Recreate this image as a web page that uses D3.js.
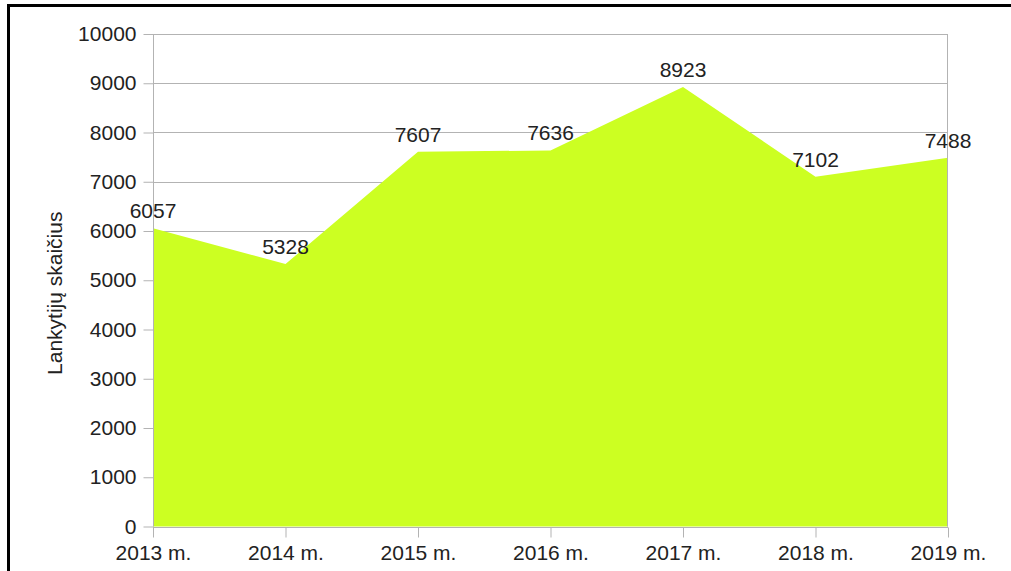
<!DOCTYPE html>
<html>
<head>
<meta charset="utf-8">
<script src="https://cdn.jsdelivr.net/npm/d3@7"></script>
<style>
  body { margin: 0; background: #fff; }
  text { font-family: "Liberation Sans", Arial, sans-serif; fill: #222; }
</style>
</head>
<body>
<div id="chart"></div>
<script>
var years = ["2013 m.", "2014 m.", "2015 m.", "2016 m.", "2017 m.", "2018 m.", "2019 m."];
var visitors = [6057, 5328, 7607, 7636, 8923, 7102, 7488];
var yTicks = [0, 1000, 2000, 3000, 4000, 5000, 6000, 7000, 8000, 9000, 10000];
var yTitle = "Lankytijų skaičius";

var W = 1011, H = 571;
var margin = {top: 34, right: 63, bottom: 44.5, left: 153},
    width = W - margin.left - margin.right,
    height = H - margin.top - margin.bottom;

var svg = d3.select("#chart")
  .append("svg")
    .attr("width", W)
    .attr("height", H);

// outer frame
svg.append("rect")
  .attr("x", 8.5).attr("y", 5.5)
  .attr("width", 1100).attr("height", 700)
  .attr("fill", "none")
  .attr("stroke", "#000")
  .attr("stroke-width", 3);

var g = svg.append("g")
  .attr("transform", "translate(" + margin.left + "," + margin.top + ")");

var x = d3.scalePoint()
  .domain(years)
  .range([0, width]);

var y = d3.scaleLinear()
  .domain([0, 10000])
  .range([height, 0]);

// gridlines
g.append("g")
  .selectAll("line")
  .data(yTicks)
  .enter()
  .append("line")
    .attr("x1", 0).attr("x2", width)
    .attr("y1", function(d) { return Math.round(y(d)) + 0.5; })
    .attr("y2", function(d) { return Math.round(y(d)) + 0.5; })
    .attr("stroke", "#b3b3b3");

// area
var area = d3.area()
  .x(function(d, i) { return x(years[i]); })
  .y0(height)
  .y1(function(d) { return y(d); });

g.append("path")
  .datum(visitors)
  .attr("d", area)
  .attr("fill", "#ccff22");

// y axis
var yAxis = g.append("g")
  .attr("transform", "translate(0.5,0)")
  .call(d3.axisLeft(y).tickValues(yTicks).tickSize(10).tickPadding(7).tickFormat(d3.format("d")));
yAxis.select(".domain").attr("stroke", "#b3b3b3").attr("d", "M0," + y(10000) + "V" + height);
yAxis.selectAll(".tick line").attr("stroke", "#b3b3b3");
yAxis.selectAll(".tick text")
  .attr("font-size", "21px")
  .attr("font-family", "Liberation Sans, Arial, sans-serif")
  .attr("fill", "#222");

// right border of plot
g.append("line")
  .attr("x1", width - 0.5).attr("x2", width - 0.5)
  .attr("y1", 0).attr("y2", height)
  .attr("stroke", "#b3b3b3");

// x axis
var xAxis = g.append("g")
  .attr("transform", "translate(0," + (Math.round(height) + 0.5) + ")")
  .call(d3.axisBottom(x).tickSize(10).tickPadding(8));
xAxis.select(".domain").attr("stroke", "#b3b3b3").attr("d", "M0,0H" + width);
xAxis.selectAll(".tick line").attr("stroke", "#b3b3b3");
xAxis.selectAll(".tick text")
  .attr("font-size", "21px")
  .attr("font-family", "Liberation Sans, Arial, sans-serif")
  .attr("fill", "#222");

// value labels
g.append("g")
  .selectAll("text")
  .data(visitors)
  .enter()
  .append("text")
    .attr("x", function(d, i) { return x(years[i]); })
    .attr("y", function(d) { return y(d) - 10; })
    .attr("text-anchor", "middle")
    .attr("font-size", "21px")
    .text(function(d) { return d; });

// y title
svg.append("text")
  .attr("transform", "translate(62," + (margin.top + height / 2 + 13) + ") rotate(-90)")
  .attr("text-anchor", "middle")
  .attr("font-size", "21px")
  .text(yTitle);
</script>
</body>
</html>
